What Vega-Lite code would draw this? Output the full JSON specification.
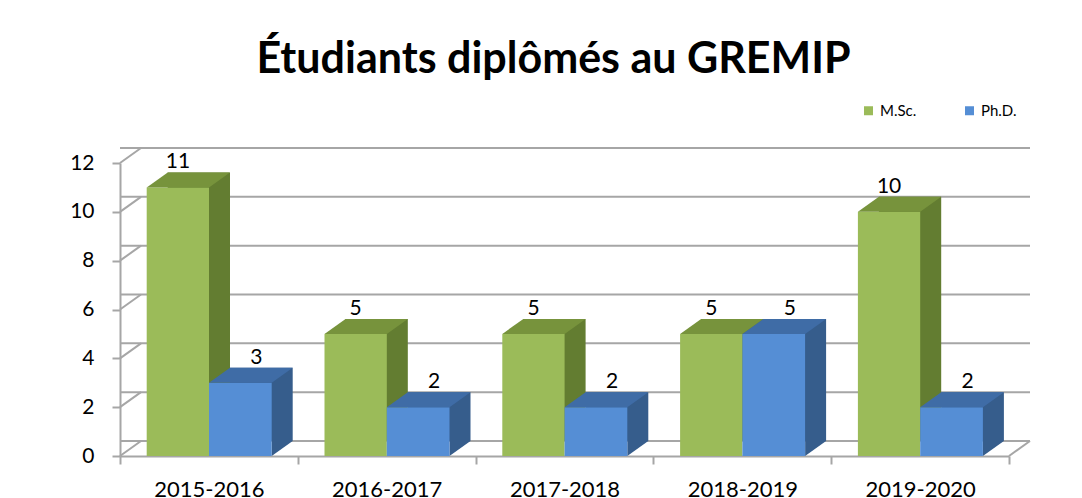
{
  "$schema": "https://vega.github.io/schema/vega-lite/v6.json",
  "width": 889,
  "height": 293,
  "autosize": "none",
  "padding": {"left": 120, "top": 163, "right": 73, "bottom": 42},
  "background": "white",
  "title": {
    "text": "Étudiants diplômés au GREMIP",
    "font": "Lato",
    "fontSize": 43,
    "fontWeight": "bold",
    "color": "#000000",
    "anchor": "middle",
    "dx": -11,
    "offset": 21
  },
  "config": {
    "view": {"stroke": null},
    "axis": {
      "labelFont": "Lato",
      "labelFontSize": 21,
      "labelColor": "#000000",
      "domainColor": "#A6A6A6",
      "domainWidth": 2,
      "tickColor": "#A6A6A6",
      "tickWidth": 2,
      "tickSize": 8,
      "grid": false,
      "title": null
    },
    "legend": {
      "labelFont": "Lato",
      "labelFontSize": 15,
      "labelColor": "#000000"
    }
  },
  "datasets": {
    "grad": [
      {"year": "2015-2016", "series": "M.Sc.", "value": 11},
      {"year": "2015-2016", "series": "Ph.D.", "value": 3},
      {"year": "2016-2017", "series": "M.Sc.", "value": 5},
      {"year": "2016-2017", "series": "Ph.D.", "value": 2},
      {"year": "2017-2018", "series": "M.Sc.", "value": 5},
      {"year": "2017-2018", "series": "Ph.D.", "value": 2},
      {"year": "2018-2019", "series": "M.Sc.", "value": 5},
      {"year": "2018-2019", "series": "Ph.D.", "value": 5},
      {"year": "2019-2020", "series": "M.Sc.", "value": 10},
      {"year": "2019-2020", "series": "Ph.D.", "value": 2}
    ],
    "ticks": [
      {"value": 0}, {"value": 2}, {"value": 4}, {"value": 6},
      {"value": 8}, {"value": 10}, {"value": 12}
    ]
  },
  "layer": [
    {
      "data": {"name": "ticks"},
      "mark": {"type": "rule", "color": "#A6A6A6", "strokeWidth": 2, "xOffset": 21, "x2Offset": 21, "yOffset": -15},
      "encoding": {
        "y": {
          "field": "value",
          "type": "quantitative",
          "scale": {"domain": [0, 12], "nice": false},
          "axis": {"values": [0, 2, 4, 6, 8, 10, 12], "labelPadding": 18}
        }
      }
    },
    {
      "data": {"name": "ticks"},
      "mark": {"type": "point", "shape": "M0,0L21,-15", "size": 4, "filled": false, "stroke": "#A6A6A6", "strokeWidth": 2, "opacity": 1, "xOffset": -88.9},
      "encoding": {
        "x": {"datum": "2015-2016", "type": "nominal"},
        "y": {"field": "value", "type": "quantitative"}
      }
    },
    {
      "data": {"name": "ticks"},
      "transform": [{"filter": "datum.value === 0"}],
      "mark": {"type": "point", "shape": "M0,0L21,-15", "size": 4, "filled": false, "stroke": "#A6A6A6", "strokeWidth": 2, "opacity": 1, "xOffset": 88.9},
      "encoding": {
        "x": {"datum": "2019-2020", "type": "nominal"},
        "y": {"field": "value", "type": "quantitative"}
      }
    },
    {
      "data": {"name": "grad"},
      "transform": [{"filter": "datum.series === 'M.Sc.'"}],
      "mark": {"type": "bar", "width": 62.3, "xOffset": -10.05, "yOffset": -15, "y2Offset": -15, "color": "#637D31"},
      "encoding": {
        "x": {
          "field": "year",
          "type": "nominal",
          "scale": {"paddingInner": 0, "paddingOuter": 0},
          "axis": {"labelAngle": 0, "tickBand": "extent", "bandPosition": 0.5, "labelAlign": "center", "labelPadding": 25, "labelFontSize": 22}
        },
        "y": {"field": "value", "type": "quantitative"}
      }
    },
    {
      "data": {"name": "grad"},
      "transform": [{"filter": "datum.series === 'M.Sc.'"}],
      "mark": {"type": "bar", "width": 62.3, "xOffset": -31.05},
      "encoding": {
        "x": {"field": "year", "type": "nominal"},
        "y": {"field": "value", "type": "quantitative"},
        "color": {
          "field": "series",
          "type": "nominal",
          "scale": {"domain": ["M.Sc.", "Ph.D."], "range": ["#9BBB59", "#558ED5"]},
          "legend": {
            "orient": "none",
            "legendX": 741,
            "legendY": -60,
            "direction": "horizontal",
            "title": null,
            "symbolType": "square",
            "symbolSize": 81,
            "symbolStrokeWidth": 0,
            "columnPadding": 45
          }
        }
      }
    },
    {
      "data": {"name": "grad"},
      "transform": [{"filter": "datum.series === 'M.Sc.'"}],
      "mark": {"type": "point", "shape": "M0,0L62.3,0L83.3,-15L21,-15Z", "size": 4, "filled": true, "fill": "#77933C", "strokeWidth": 0, "opacity": 1, "xOffset": -62.2},
      "encoding": {
        "x": {"field": "year", "type": "nominal"},
        "y": {"field": "value", "type": "quantitative"}
      }
    },
    {
      "data": {"name": "grad"},
      "transform": [{"filter": "datum.series === 'Ph.D.'"}],
      "mark": {"type": "bar", "width": 62.7, "xOffset": 52.45, "yOffset": -15, "y2Offset": -15, "color": "#365D8C"},
      "encoding": {
        "x": {"field": "year", "type": "nominal"},
        "y": {"field": "value", "type": "quantitative"}
      }
    },
    {
      "data": {"name": "grad"},
      "transform": [{"filter": "datum.series === 'Ph.D.'"}],
      "mark": {"type": "point", "shape": "M0,0L21,-15L0,-15Z", "size": 4, "filled": true, "fill": "#365D8C", "strokeWidth": 0, "opacity": 1, "xOffset": 62.8},
      "encoding": {
        "x": {"field": "year", "type": "nominal"},
        "y": {"datum": 0, "type": "quantitative"}
      }
    },
    {
      "data": {"name": "grad"},
      "transform": [{"filter": "datum.series === 'Ph.D.'"}],
      "mark": {"type": "bar", "width": 62.7, "xOffset": 31.45},
      "encoding": {
        "x": {"field": "year", "type": "nominal"},
        "y": {"field": "value", "type": "quantitative"},
        "color": {"field": "series", "type": "nominal"}
      }
    },
    {
      "data": {"name": "grad"},
      "transform": [{"filter": "datum.series === 'Ph.D.'"}],
      "mark": {"type": "point", "shape": "M0,0L62.7,0L83.7,-15L21,-15Z", "size": 4, "filled": true, "fill": "#3F6CA6", "strokeWidth": 0, "opacity": 1, "xOffset": 0.1},
      "encoding": {
        "x": {"field": "year", "type": "nominal"},
        "y": {"field": "value", "type": "quantitative"}
      }
    },
    {
      "data": {"name": "grad"},
      "transform": [{"filter": "datum.series === 'M.Sc.'"}],
      "mark": {"type": "text", "font": "Lato", "fontSize": 21, "color": "#000000", "baseline": "alphabetic", "align": "center", "xOffset": -31, "yOffset": -19},
      "encoding": {
        "x": {"field": "year", "type": "nominal"},
        "y": {"field": "value", "type": "quantitative"},
        "text": {"field": "value", "type": "quantitative"}
      }
    },
    {
      "data": {"name": "grad"},
      "transform": [{"filter": "datum.series === 'Ph.D.'"}],
      "mark": {"type": "text", "font": "Lato", "fontSize": 21, "color": "#000000", "baseline": "alphabetic", "align": "center", "xOffset": 47.5, "yOffset": -19},
      "encoding": {
        "x": {"field": "year", "type": "nominal"},
        "y": {"field": "value", "type": "quantitative"},
        "text": {"field": "value", "type": "quantitative"}
      }
    }
  ]
}
